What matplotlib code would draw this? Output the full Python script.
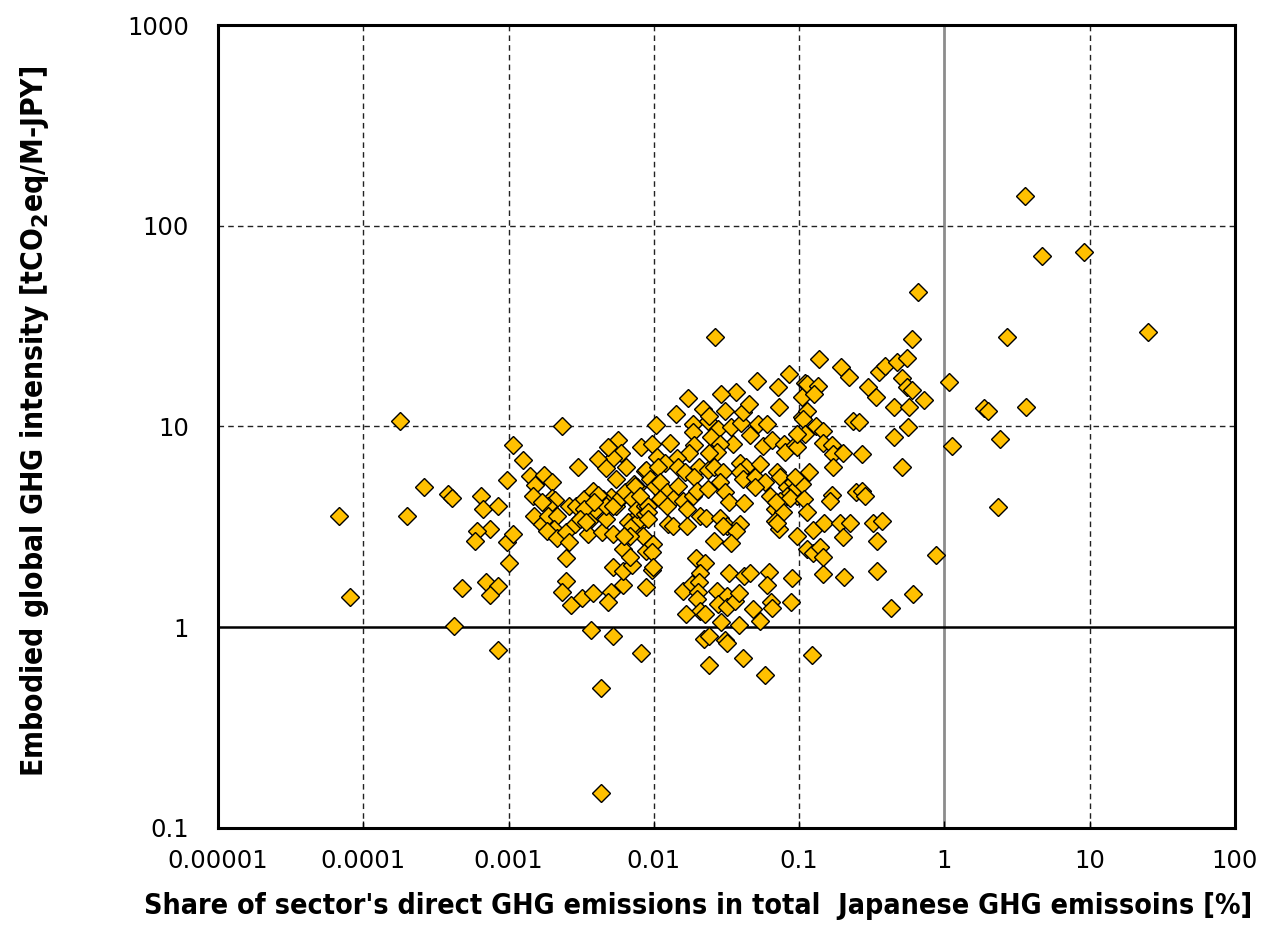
import numpy as np
import matplotlib
matplotlib.use("Agg")
from matplotlib import pyplot as plt
from matplotlib.ticker import FixedLocator, FixedFormatter, NullLocator
from matplotlib import font_manager

# share of sector's direct GHG emissions [%]
share = [6.8e-5, 8.1e-5, 1.8e-4, 2.6e-4, 2.0e-4, 3.8e-4, 4.1e-4, 6.5e-4, 6.7e-4, 8.4e-4,
         7.5e-4, 6.1e-4, 5.9e-4, 9.7e-4, 1.07e-3, 1.0e-3, 4.8e-4, 7.0e-4, 8.4e-4, 7.4e-4,
         4.2e-4, 8.4e-4, 2.35e-3, 1.07e-3, 1.25e-3, 9.7e-4, 3.0e-3,
         2.5e-3, 2.5e-3, 2.35e-3, 2.7e-3, 3.2e-3, 3.8e-3, 5.1e-3, 4.8e-3, 3.7e-3, 5.2e-3,
         6.1e-3, 5.2e-3, 6.1e-3, 7.1e-3, 9.7e-3, 8.8e-3, 8.2e-3, 4.3e-3, 4.3e-3,
         5.7e-3, 5.0e-3, 5.9e-3, 5.2e-3, 4.1e-3, 4.7e-3, 6.4e-3, 8.2e-3, 5.5e-3,
         1.4e-3, 1.74e-3, 2.0e-3, 1.53e-3, 1.48e-3, 1.98e-3, 2.1e-3, 1.86e-3, 1.7e-3, 1.5e-3,
         1.69e-3, 1.86e-3, 2.17e-3, 2.07e-3, 1.83e-3, 2.14e-3, 2.5e-3, 2.6e-3, 2.6e-3, 2.9e-3,
         3.3e-3, 3.8e-3, 3.4e-3, 3.9e-3, 3.6e-3, 2.85e-3, 3.5e-3, 4.4e-3, 5.2e-3, 4.7e-3,
         5.5e-3, 5.1e-3, 4.5e-3, 6.1e-3, 6.8e-3, 7.6e-3, 7.1e-3, 6.7e-3, 7.6e-3, 8.4e-3,
         6.1e-3, 6.8e-3, 4.1e-3, 3.3e-3, 3.1e-3, 3.4e-3, 4.7e-3, 5.2e-3, 5.9e-3, 6.3e-3,
         7.1e-3, 7.3e-3, 6.6e-3, 7.1e-3, 8.0e-3, 7.6e-3, 8.7e-3, 8.8e-3, 6.8e-3, 6.2e-3,
         8.7e-3, 7.4e-3, 8.0e-3, 8.9e-3, 8.7e-3, 9.1e-3, 4.8e-3, 3.9e-3,
         1.03e-2, 1.86e-2, 1.86e-2, 2.35e-2, 2.75e-2, 2.47e-2, 3.4e-2, 4.0e-2, 4.6e-2, 5.2e-2,
         6.0e-2, 3.5e-2, 2.85e-2, 2.7e-2, 5.6e-2, 6.5e-2, 7.9e-2, 8.0e-2, 9.4e-2, 1.29e-2,
         9.7e-3, 1.9e-2, 1.74e-2, 2.4e-2, 1.44e-2, 1.05e-2, 1.19e-2, 1.07e-2, 1.46e-2, 1.63e-2,
         2.04e-2, 2.35e-2, 2.6e-2, 3.0e-2, 1.9e-2, 2.85e-2, 3.9e-2, 4.3e-2, 3.9e-2, 4.1e-2,
         5.0e-2, 5.4e-2, 5.8e-2, 5.0e-2, 7.0e-2, 7.4e-2, 8.3e-2, 9.1e-2, 9.7e-2, 8.3e-2,
         6.3e-2, 7.4e-2, 6.8e-2, 7.7e-2, 6.8e-2, 7.3e-2, 9.7e-2, 9.4e-3, 1.02e-2, 1.1e-2,
         1.23e-2, 1.46e-2, 1.35e-2, 1.1e-2, 1.23e-2, 1.58e-2, 1.86e-2, 1.98e-2, 2.35e-2, 3.1e-2,
         3.3e-2, 4.2e-2, 1.69e-2, 2.07e-2, 2.3e-2, 2.85e-2, 3.2e-2, 3.9e-2, 3.7e-2, 1.25e-2,
         1.35e-2, 1.69e-2, 2.6e-2, 3.4e-2, 9.1e-3, 9.1e-3, 9.8e-3, 9.7e-3, 1.95e-2, 2.24e-2,
         2.07e-2, 3.3e-2, 4.2e-2, 4.6e-2, 6.2e-2, 6.0e-2, 8.9e-2, 0.146, 0.204, 1.58e-2,
         1.83e-2, 2.04e-2, 2.0e-2, 1.98e-2, 2.07e-2, 1.66e-2, 2.24e-2, 2.7e-2, 3.2e-2, 2.76e-2,
         3.2e-2, 3.6e-2, 3.85e-2, 2.9e-2, 3.85e-2, 4.8e-2, 5.4e-2, 6.4e-2, 6.5e-2, 8.8e-2,
         2.2e-2, 2.4e-2, 3.1e-2, 3.2e-2, 4.1e-2, 2.4e-2, 5.8e-2, 0.123,
         2.63e-2, 8.5e-2, 5.1e-2, 7.2e-2, 7.3e-2, 3.7e-2, 2.9e-2, 1.71e-2, 1.42e-2, 2.17e-2,
         2.4e-2, 3.1e-2, 4.1e-2, 4.5e-2, 0.11, 0.105, 0.105, 9.8e-3, 0.114, 9.7e-2,
         8.6e-2, 6.9e-2, 7.0e-2, 3.0e-2,
         0.60, 0.137, 0.195, 0.22, 0.357, 0.39, 0.47, 0.55, 0.30, 0.34,
         0.51, 0.55, 0.60, 0.72, 0.45, 0.57, 1.07, 1.12, 0.114, 0.135,
         0.127, 0.114, 0.107, 0.13, 0.146, 0.236, 0.26, 0.56, 0.45, 0.146,
         0.168, 0.17, 0.2, 0.27, 0.51, 0.17, 0.117, 0.105, 0.108, 0.114,
         0.168, 0.163, 0.247, 0.27, 0.286, 0.125, 0.149, 0.19, 0.225, 0.325,
         0.37, 0.2, 0.345, 0.125, 0.14, 0.146, 0.87, 0.345, 0.61, 0.43,
         0.66, 3.6, 4.7, 9.2, 25.4, 2.7, 1.86, 2.0, 3.67, 2.4,
         2.35, 9.7e-2, 9.4e-2, 0.11, 9.7e-2]

# embodied global GHG intensity [tCO2eq/M-JPY]
intensity = [3.6, 1.41, 10.6, 5.0, 3.6, 4.6, 4.4, 4.5, 3.9, 4.0,
             3.1, 3.0, 2.7, 2.65, 2.9, 2.1, 1.56, 1.68, 1.6, 1.45,
             1.01, 0.77, 10.0, 8.1, 6.8, 5.4, 6.3,
             2.2, 1.7, 1.5, 1.29, 1.4, 1.48, 1.5, 1.33, 0.97, 0.9,
             1.62, 2.0, 1.9, 2.04, 1.92, 1.58, 0.74, 0.50, 0.149,
             8.6, 7.7, 7.4, 7.0, 6.9, 6.2, 6.3, 7.9, 5.5,
             5.65, 5.7, 5.3, 5.1, 4.5, 4.4, 4.3, 4.0, 4.2, 3.57,
             3.26, 3.57, 3.6, 3.08, 3.0, 2.78, 2.97, 2.65, 4.0, 4.0,
             4.35, 4.75, 3.78, 3.78, 3.37, 3.26, 2.9, 2.97, 2.9, 3.45,
             4.0, 4.45, 4.35, 4.5, 4.9, 5.0, 3.37, 2.9, 3.2, 2.85,
             2.45, 2.23, 4.55, 3.9, 3.45, 3.33, 4.0, 4.0, 4.45, 4.7,
             4.35, 5.2, 3.33, 3.2, 3.45, 3.9, 4.0, 2.4, 2.85, 2.85,
             6.0, 5.05, 4.5, 6.1, 3.65, 4.0, 7.9, 4.2,
             10.2, 10.3, 9.4, 10.6, 9.7, 8.9, 9.9, 10.4, 9.1, 10.3,
             10.3, 8.2, 8.2, 7.5, 8.0, 8.55, 8.2, 7.5, 8.1, 8.3,
             8.2, 8.1, 7.4, 7.4, 7.0, 7.05, 6.6, 6.3, 6.25, 5.9,
             6.3, 6.1, 6.3, 5.9, 5.6, 5.3, 6.6, 6.3, 5.9, 5.5,
             5.6, 6.5, 5.3, 5.0, 5.9, 5.6, 5.0, 5.3, 4.5, 4.5,
             4.5, 4.25, 3.9, 3.75, 3.37, 3.1, 2.84, 5.5, 5.05, 5.3,
             4.7, 5.05, 4.35, 4.35, 4.0, 4.25, 4.5, 4.75, 4.9, 4.7,
             4.2, 4.15, 3.9, 3.57, 3.5, 3.5, 3.2, 3.26, 3.0, 3.26,
             3.2, 3.2, 2.68, 2.62, 3.75, 3.45, 2.6, 2.36, 2.2, 2.08,
             1.86, 1.86, 1.79, 1.86, 1.88, 1.62, 1.75, 1.84, 1.77, 1.51,
             1.64, 1.68, 1.49, 1.39, 1.2, 1.17, 1.17, 1.51, 1.43, 1.3,
             1.26, 1.35, 1.48, 1.06, 1.02, 1.23, 1.08, 1.33, 1.24, 1.33,
             0.87, 0.9, 0.86, 0.83, 0.70, 0.65, 0.58, 0.73,
             27.9, 18.2, 16.8, 15.7, 12.5, 14.8, 14.5, 13.8, 11.5, 12.2,
             11.3, 12.0, 11.8, 13.0, 16.4, 14.0, 11.1, 2.0, 2.45, 5.0,
             4.4, 4.2, 3.3, 3.2,
             27.3, 21.6, 19.8, 17.6, 18.6, 20.0, 20.9, 21.9, 15.7, 14.0,
             17.4, 15.7, 15.2, 13.5, 12.5, 12.5, 16.6, 8.0, 16.3, 15.9,
             14.5, 11.9, 10.9, 10.0, 9.5, 10.6, 10.5, 9.9, 8.9, 8.3,
             8.1, 7.3, 7.4, 7.3, 6.3, 6.3, 5.9, 5.2, 4.35, 3.75,
             4.55, 4.25, 4.7, 4.75, 4.5, 3.05, 3.3, 3.3, 3.3, 3.3,
             3.4, 2.8, 2.7, 2.34, 2.5, 2.23, 2.3, 1.9, 1.46, 1.24,
             46.7, 140, 70.5, 73.8, 29.5, 27.9, 12.3, 11.9, 12.5, 8.7,
             3.96, 7.9, 5.6, 9.2, 9.2]

x_ticks = [1e-5, 1e-4, 1e-3, 1e-2, 1e-1, 1, 10, 100]
x_labels = ["0.00001", "0.0001", "0.001", "0.01", "0.1", "1", "10", "100"]
y_ticks = [0.1, 1, 10, 100, 1000]
y_labels = ["0.1", "1", "10", "100", "1000"]

plt.rcParams['font.family'] = ['DejaVu Sans']

# condensed bold font for the axis titles
xlabel_prop = font_manager.FontProperties(family='DejaVu Sans', weight='bold',
                                          stretch='condensed', size=20.5)
ylabel_prop = font_manager.FontProperties(family='DejaVu Sans', weight='bold',
                                          stretch='condensed', size=21.5)

fig = plt.figure(figsize=(12.63, 9.52), dpi=100)
ax = fig.add_axes([0.1726, 0.1303, 0.8052, 0.8434])
ax.set_xscale('log')
ax.set_yscale('log')
ax.set_xlim(1e-5, 100)
ax.set_ylim(0.1, 1000)

# grid lines
for xv in x_ticks[1:-1]:
    if xv == 1:
        ax.axvline(xv, color='#8c8c8c', lw=2.0, zorder=1)
    else:
        ax.axvline(xv, color='#222222', lw=1.0, ls=(0, (4, 3)), zorder=1)
for yv in y_ticks[1:-1]:
    if yv == 1:
        ax.axhline(yv, color='black', lw=1.8, zorder=1)
    else:
        ax.axhline(yv, color='#222222', lw=1.0, ls=(0, (4, 3)), zorder=1)

ax.plot(share, intensity, ls='none', marker='D', markersize=8.8,
        markerfacecolor='#FFC000', markeredgecolor='black', markeredgewidth=1.0, zorder=3)

ax.xaxis.set_major_locator(FixedLocator(x_ticks))
ax.xaxis.set_major_formatter(FixedFormatter(x_labels))
ax.yaxis.set_major_locator(FixedLocator(y_ticks))
ax.yaxis.set_major_formatter(FixedFormatter(y_labels))
ax.xaxis.set_minor_locator(NullLocator())
ax.yaxis.set_minor_locator(NullLocator())
ax.tick_params(axis='x', direction='in', length=5, width=1, pad=15, labelsize=17.5)
ax.tick_params(axis='y', direction='in', length=0, pad=21, labelsize=17.5)

for s in ax.spines.values():
    s.set_linewidth(2.2)
    s.set_color('black')

fig.text(0.5527, 0.048, "Share of sector's direct GHG emissions in total  Japanese GHG emissoins [%]",
         ha='center', va='center', fontproperties=xlabel_prop)
fig.text(0.027, 0.557, r"Embodied global GHG intensity [tCO$_\mathbf{2}$eq/M-JPY]",
         ha='center', va='center', rotation=90, fontproperties=ylabel_prop)

fig.savefig('out.png', dpi=100)
